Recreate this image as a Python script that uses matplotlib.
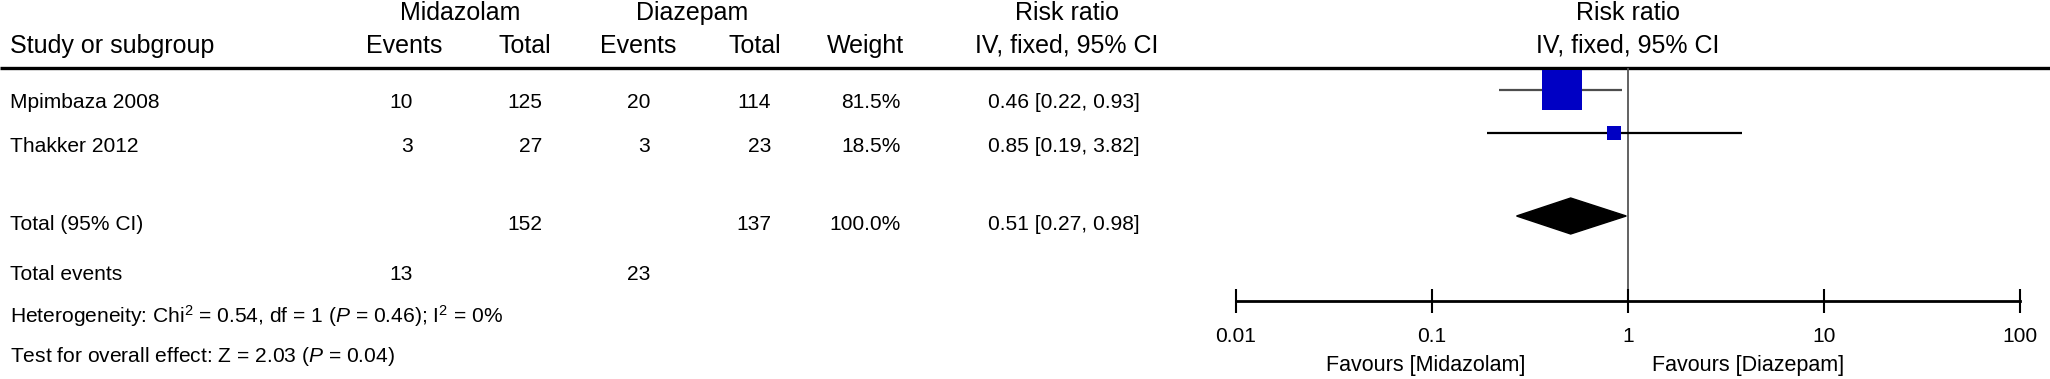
import matplotlib
matplotlib.use("Agg")
import matplotlib.pyplot as plt
from matplotlib.patches import Polygon

plt.rcParams['font.family'] = ['Liberation Sans', 'DejaVu Sans']
plt.rcParams['mathtext.fontset'] = 'custom'
plt.rcParams['mathtext.rm'] = 'Liberation Sans'
plt.rcParams['mathtext.it'] = 'Liberation Sans:italic'

# data
studies = ['Mpimbaza 2008', 'Thakker 2012']
mid_events = [10, 3]
mid_total = [125, 27]
dia_events = [20, 3]
dia_total = [114, 23]
weights = [81.5, 18.5]
rr = [0.46, 0.85]
rr_lo = [0.22, 0.19]
rr_hi = [0.93, 3.82]
pooled = [0.51, 0.27, 0.98]
ticks = [0.01, 0.1, 1, 10, 100]
tick_labels = ['0.01', '0.1', '1', '10', '100']
het_text = 'Heterogeneity: Chi$^2$ = 0.54, df = 1 ($P$ = 0.46); I$^2$ = 0%'
test_text = 'Test for overall effect: Z = 2.03 ($P$ = 0.04)'

W, H = 2050, 379
fig = plt.figure(figsize=(W / 100, H / 100), dpi=100)

# table part, pixel coordinates
ax = fig.add_axes([0, 0, 1, 1])
ax.set_xlim(0, W)
ax.set_ylim(H, 0)
ax.axis('off')

hs = 18      # header font size
bs = 15.1    # body font size
h1, h2 = 13, 46

# headers
ax.text(460, h1, 'Midazolam', ha='center', va='center', fontsize=hs)
ax.text(692, h1, 'Diazepam', ha='center', va='center', fontsize=hs)
ax.text(1067, h1, 'Risk ratio', ha='center', va='center', fontsize=hs)
ax.text(10, h2, 'Study or subgroup', ha='left', va='center', fontsize=hs)
for x, s in [(404, 'Events'), (525, 'Total'), (638, 'Events'), (755, 'Total'),
             (865, 'Weight'), (1067, 'IV, fixed, 95% CI')]:
    ax.text(x, h2, s, ha='center', va='center', fontsize=hs)
ax.hlines(68, 0, W, color='black', lw=2.4)

# study rows
row_y = [102, 146]
for i, y in enumerate(row_y):
    ax.text(10, y, studies[i], ha='left', va='center', fontsize=bs)
    ax.text(413, y, str(mid_events[i]), ha='right', va='center', fontsize=bs)
    ax.text(542, y, str(mid_total[i]), ha='right', va='center', fontsize=bs)
    ax.text(650, y, str(dia_events[i]), ha='right', va='center', fontsize=bs)
    ax.text(771, y, str(dia_total[i]), ha='right', va='center', fontsize=bs)
    ax.text(901, y, f'{weights[i]:.1f}%', ha='right', va='center', fontsize=bs)
    ax.text(1140, y, f'{rr[i]:.2f} [{rr_lo[i]:.2f}, {rr_hi[i]:.2f}]',
            ha='right', va='center', fontsize=bs)

# total rows
ty = 225
ax.text(10, ty, 'Total (95% CI)', ha='left', va='center', fontsize=bs)
ax.text(542, ty, str(sum(mid_total)), ha='right', va='center', fontsize=bs)
ax.text(771, ty, str(sum(dia_total)), ha='right', va='center', fontsize=bs)
ax.text(901, ty, f'{sum(weights):.1f}%', ha='right', va='center', fontsize=bs)
ax.text(1140, ty, f'{pooled[0]:.2f} [{pooled[1]:.2f}, {pooled[2]:.2f}]',
        ha='right', va='center', fontsize=bs)
ax.text(10, 274, 'Total events', ha='left', va='center', fontsize=bs)
ax.text(413, 274, str(sum(mid_events)), ha='right', va='center', fontsize=bs)
ax.text(650, 274, str(sum(dia_events)), ha='right', va='center', fontsize=bs)
ax.text(10, 316, het_text, ha='left', va='center', fontsize=bs)
ax.text(10, 357, test_text, ha='left', va='center', fontsize=bs)

# forest part, log scale
x0, x1 = 1236, 2020
fa = fig.add_axes([x0 / W, 0, (x1 - x0) / W, 1])
fa.set_xscale('log')
fa.set_xlim(0.01, 100)
fa.set_ylim(H, 0)
fa.patch.set_visible(False)
for sp in ['top', 'left', 'right']:
    fa.spines[sp].set_visible(False)
fa.spines['bottom'].set_position(('data', 301))
fa.spines['bottom'].set_linewidth(2)
fa.set_yticks([])
fa.set_xticks(ticks)
fa.set_xticklabels(tick_labels)
fa.xaxis.set_minor_locator(matplotlib.ticker.NullLocator())
fa.tick_params(axis='x', direction='inout', length=17, width=1.5,
               labelsize=bs, pad=10)

fa.vlines(1, 68, 301, color='#555555', lw=1.3, zorder=1)

mark_y = [90, 133]
fa.hlines(mark_y, rr_lo, rr_hi, colors=['#4d4d4d', 'black'], lw=1.6, zorder=2)
sides = [28.8 * (w / max(weights)) ** 0.7 for w in weights]
fa.scatter(rr, mark_y, marker='s', s=[s ** 2 for s in sides],
           color='#0000C4', edgecolors='none', zorder=3)

dy = 216
diamond = Polygon([(pooled[1], dy), (pooled[0], dy - 18), (pooled[2], dy),
                   (pooled[0], dy + 18)], closed=True, color='black', zorder=3)
fa.add_patch(diamond)

# right header and favours labels
fa.text(1, h1, 'Risk ratio', ha='center', va='center', fontsize=hs)
fa.text(1, h2, 'IV, fixed, 95% CI', ha='center', va='center', fontsize=hs)
fa.text((1426 - x0) / (x1 - x0), 366, 'Favours [Midazolam]', ha='center',
        va='center', fontsize=bs + 0.4, transform=fa.get_yaxis_transform())
fa.text((1748 - x0) / (x1 - x0), 366, 'Favours [Diazepam]', ha='center',
        va='center', fontsize=bs + 0.4, transform=fa.get_yaxis_transform())

fig.savefig('out.png', dpi=100)
